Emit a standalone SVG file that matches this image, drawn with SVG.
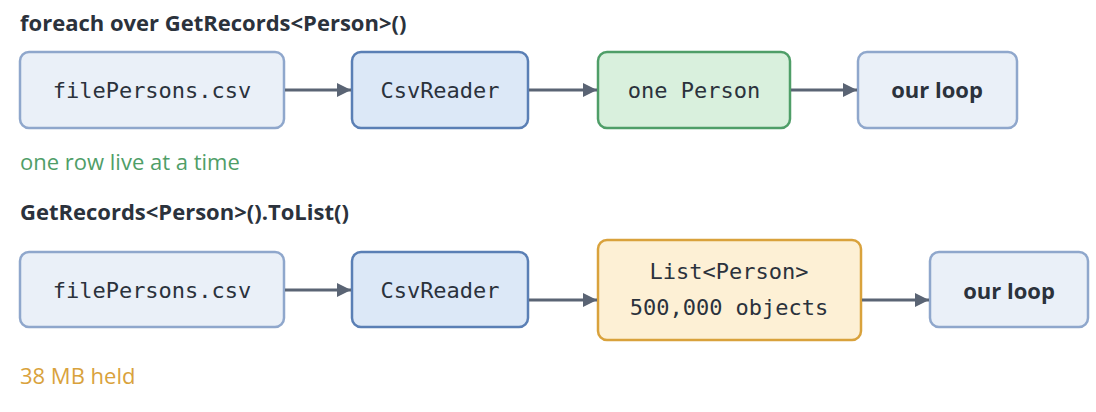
<svg xmlns="http://www.w3.org/2000/svg" width="1096" height="412" viewBox="0 0 1096 412">
<style>
.t{font-family:"Open Sans","Noto Sans",sans-serif;font-size:22px;fill:#2b323c}
.h{font-weight:bold}
.m{font-family:"DejaVu Sans Mono",monospace;font-size:22px;fill:#2b323c;text-anchor:middle}
.b{font-family:"Open Sans","Noto Sans",sans-serif;font-size:22px;font-weight:bold;fill:#2b323c;text-anchor:middle}
.n1{fill:#eaf0f8;stroke:#8fa7cc;stroke-width:2.5}
.n2{fill:#dce8f7;stroke:#5a7fb5;stroke-width:2.5}
.n3{fill:#d9f0dd;stroke:#4f9e68;stroke-width:2.5}
.n4{fill:#fdf0d5;stroke:#d9a23c;stroke-width:2.5}
.c{stroke:#5a6474;stroke-width:3;fill:none;marker-end:url(#a)}
</style>
<defs><marker id="a" viewBox="0 0 14 14" refX="14" refY="7" markerWidth="14" markerHeight="14" orient="auto" markerUnits="userSpaceOnUse"><path d="M0,0L14,7L0,14z" fill="#5a6474"/></marker></defs>
<text class="t h" x="20" y="31">foreach over GetRecords&lt;Person&gt;()</text>
<text class="t" x="20" y="170" style="fill:#4f9e68">one row live at a time</text>
<text class="t h" x="20" y="220">GetRecords&lt;Person&gt;().ToList()</text>
<text class="t" x="20" y="384" style="fill:#d9a23c">38 MB held</text>
<g id="r1a"><rect class="n1" x="20" y="52" width="264" height="76" rx="9"/><text class="m" x="152" y="98">filePersons.csv</text></g>
<g id="r1b"><rect class="n2" x="352" y="52" width="176" height="76" rx="9"/><text class="m" x="440" y="98">CsvReader</text></g>
<g id="r1c"><rect class="n3" x="598" y="52" width="192" height="76" rx="9"/><text class="m" x="694" y="98">one Person</text></g>
<g id="r1d"><rect class="n1" x="858" y="52" width="159" height="76" rx="9"/><text class="b" x="937" y="98">our loop</text></g>
<g id="r2a"><rect class="n1" x="20" y="252" width="264" height="75" rx="9"/><text class="m" x="152" y="298">filePersons.csv</text></g>
<g id="r2b"><rect class="n2" x="352" y="252" width="176" height="75" rx="9"/><text class="m" x="440" y="298">CsvReader</text></g>
<g id="r2c"><rect class="n4" x="598" y="240" width="263" height="100" rx="9"/><text class="m" x="729" y="279">List&lt;Person&gt;</text><text class="m" x="729" y="315">500,000 objects</text></g>
<g id="r2d"><rect class="n1" x="930" y="252" width="158" height="75" rx="9"/><text class="b" x="1009" y="299">our loop</text></g>
<g id="connectors">
<path class="c" d="M285,90H351"/><path class="c" d="M529,90H597"/><path class="c" d="M791,90H857"/>
<path class="c" d="M285,290H351"/><path class="c" d="M529,300H597"/><path class="c" d="M862,300H929"/>
</g>
</svg>
